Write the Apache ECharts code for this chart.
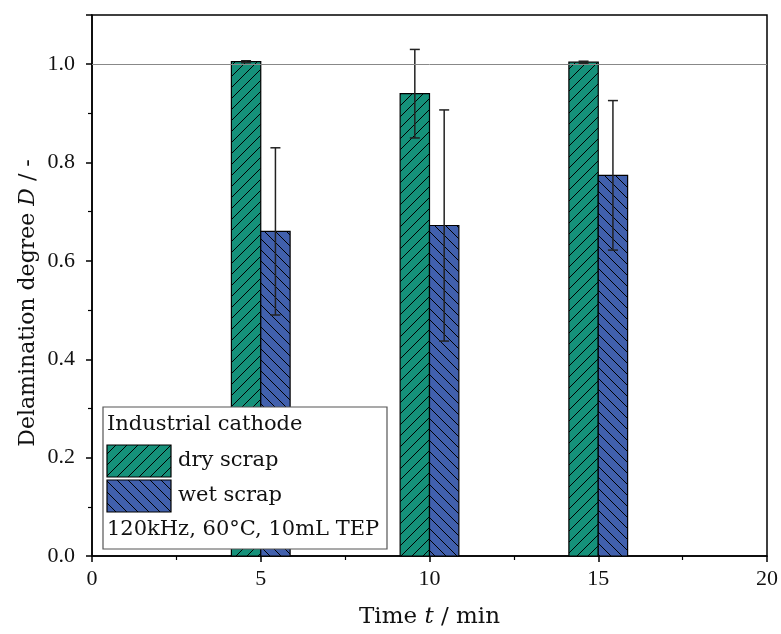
<!DOCTYPE html>
<html><head><meta charset="utf-8">
<script src="https://cdn.jsdelivr.net/npm/echarts@6/dist/echarts.min.js"></script>
<style>html,body{margin:0;padding:0;background:#fff}#c{width:781px;height:634px}</style>
</head><body><div id="c"></div>
<script>
const times = [5, 10, 15];
const dryValues = [1.005, 0.940, 1.004];
const dryErrors = [0.002, 0.090, 0.002];
const wetValues = [0.660, 0.672, 0.774];
const wetErrors = [0.170, 0.235, 0.152];
const xTicks = [0, 5, 10, 15, 20];
const yTicks = [0.0, 0.2, 0.4, 0.6, 0.8, 1.0];
const legendTitle = 'Industrial cathode';
const legendNames = ['dry scrap', 'wet scrap'];
const legendNote = '120kHz, 60°C, 10mL TEP';

const GREEN = '#15917a', BLUE = '#4160ad';
const BAR_W = 0.87;
const NUMFONT = '"Liberation Serif", serif';
const FONT = '"DejaVu Serif", serif';

function hatch(bg, dir) {
  const s = 11;
  const c = document.createElement('canvas');
  c.width = s; c.height = s;
  const g = c.getContext('2d');
  g.fillStyle = bg; g.fillRect(0, 0, s, s);
  g.strokeStyle = '#000'; g.lineWidth = 1;
  g.beginPath();
  if (dir > 0) {
    g.moveTo(-2, s + 2); g.lineTo(s + 2, -2);
    g.moveTo(-2, 2); g.lineTo(2, -2);
    g.moveTo(s - 2, s + 2); g.lineTo(s + 2, s - 2);
  } else {
    g.moveTo(-2, -2); g.lineTo(s + 2, s + 2);
    g.moveTo(s - 2, -2); g.lineTo(s + 2, 2);
    g.moveTo(-2, s - 2); g.lineTo(2, s + 2);
  }
  g.stroke();
  return { image: c, repeat: 'repeat' };
}
const dryFill = hatch(GREEN, 1);
const wetFill = hatch(BLUE, -1);

function barSeries(name, vals, errs, side, fill) {
  const data = times.map((t, i) => [t, vals[i], errs[i]]);
  return {
    type: 'custom', name: name, data: data, z: 3,
    renderItem: function (params, api) {
      const t = api.value(0), v = api.value(1), e = api.value(2);
      const x0 = side < 0 ? t - BAR_W : t;
      const x1 = side < 0 ? t : t + BAR_W;
      const p0 = api.coord([x0, 0]);
      const p1 = api.coord([x1, v]);
      const xc = api.coord([(x0 + x1) / 2, 0])[0];
      const yt = api.coord([0, v + e])[1];
      const yb = api.coord([0, v - e])[1];
      const cap = 5;
      const es = { stroke: '#222', lineWidth: 1.5 };
      return {
        type: 'group',
        children: [
          { type: 'rect', shape: { x: p0[0], y: p1[1], width: p1[0] - p0[0], height: p0[1] - p1[1] },
            style: { fill: fill, stroke: '#000', lineWidth: 1.2 } },
          { type: 'line', shape: { x1: xc, y1: yt, x2: xc, y2: yb }, style: es },
          { type: 'line', shape: { x1: xc - cap, y1: yt, x2: xc + cap, y2: yt }, style: es },
          { type: 'line', shape: { x1: xc - cap, y1: yb, x2: xc + cap, y2: yb }, style: es }
        ]
      };
    }
  };
}

const chart = echarts.init(document.getElementById('c'), null, { renderer: 'canvas' });
const axisLine = { show: true, lineStyle: { color: '#000', width: 1.5 } };
const labelStyle = { color: '#111', fontFamily: NUMFONT, fontSize: 22 };

chart.setOption({
  animation: false,
  grid: { left: 92, right: 13, top: 15, bottom: 75, show: true, borderColor: '#000', borderWidth: 1.5 },
  xAxis: {
    type: 'value', min: xTicks[0], max: xTicks[xTicks.length - 1], interval: 5,
    axisLine: axisLine,
    axisTick: { show: true, length: 6, lineStyle: { color: '#000', width: 1.5 } },
    minorTick: { show: true, splitNumber: 2, length: 4, lineStyle: { color: '#000', width: 1.2 } },
    splitLine: { show: false },
    axisLabel: Object.assign({ margin: 12 }, labelStyle),
    name: '{n|Time }{i|t}{n| / min}', nameLocation: 'middle', nameGap: 50,
    nameTextStyle: { rich: {
      n: { fontFamily: FONT, fontSize: 23, color: '#111' },
      i: { fontFamily: FONT, fontSize: 23, color: '#111', fontStyle: 'italic' } } }
  },
  yAxis: {
    type: 'value', min: 0, max: 1.1, interval: 0.2,
    axisLine: axisLine,
    axisTick: { show: true, length: 6, lineStyle: { color: '#000', width: 1.5 } },
    minorTick: { show: true, splitNumber: 2, length: 4, lineStyle: { color: '#000', width: 1.2 } },
    splitLine: { show: false },
    axisLabel: Object.assign({ margin: 17, showMaxLabel: false,
      formatter: v => (yTicks.some(t => Math.abs(t - v) < 1e-6) ? v.toFixed(1) : '') }, labelStyle)
  },
  series: [
    Object.assign(barSeries(legendNames[0], dryValues, dryErrors, -1, dryFill), {
      markLine: { silent: true, symbol: 'none', label: { show: false },
        lineStyle: { color: '#888', width: 1, type: 'solid' }, data: [{ yAxis: 1.0 }] }
    }),
    barSeries(legendNames[1], wetValues, wetErrors, 1, wetFill)
  ],
  graphic: [
    { type: 'text', z: 11, x: 28, y: 303, rotation: Math.PI / 2,
      style: { text: '{n|Delamination degree }{i|D}{n| / -}', align: 'center', verticalAlign: 'middle',
        rich: {
          n: { fontFamily: FONT, fontSize: 22, fill: '#111' },
          i: { fontFamily: FONT, fontSize: 22, fill: '#111', fontStyle: 'italic' } } } },
    { type: 'rect', z: 10, shape: { x: 103, y: 407, width: 284, height: 142 },
      style: { fill: '#fff', stroke: '#555', lineWidth: 1.2 } },
    { type: 'text', z: 11, x: 107, y: 425,
      style: { text: legendTitle, font: '21px ' + FONT, fill: '#111', verticalAlign: 'middle' } },
    { type: 'rect', z: 11, shape: { x: 107, y: 445, width: 64, height: 32 },
      style: { fill: dryFill, stroke: '#000', lineWidth: 1.2 } },
    { type: 'text', z: 11, x: 178, y: 461,
      style: { text: legendNames[0], font: '21px ' + FONT, fill: '#111', verticalAlign: 'middle' } },
    { type: 'rect', z: 11, shape: { x: 107, y: 480, width: 64, height: 32 },
      style: { fill: wetFill, stroke: '#000', lineWidth: 1.2 } },
    { type: 'text', z: 11, x: 178, y: 496,
      style: { text: legendNames[1], font: '21px ' + FONT, fill: '#111', verticalAlign: 'middle' } },
    { type: 'text', z: 11, x: 107, y: 530,
      style: { text: legendNote, font: '21px ' + FONT, fill: '#111', verticalAlign: 'middle' } }
  ]
});
</script></body></html>
